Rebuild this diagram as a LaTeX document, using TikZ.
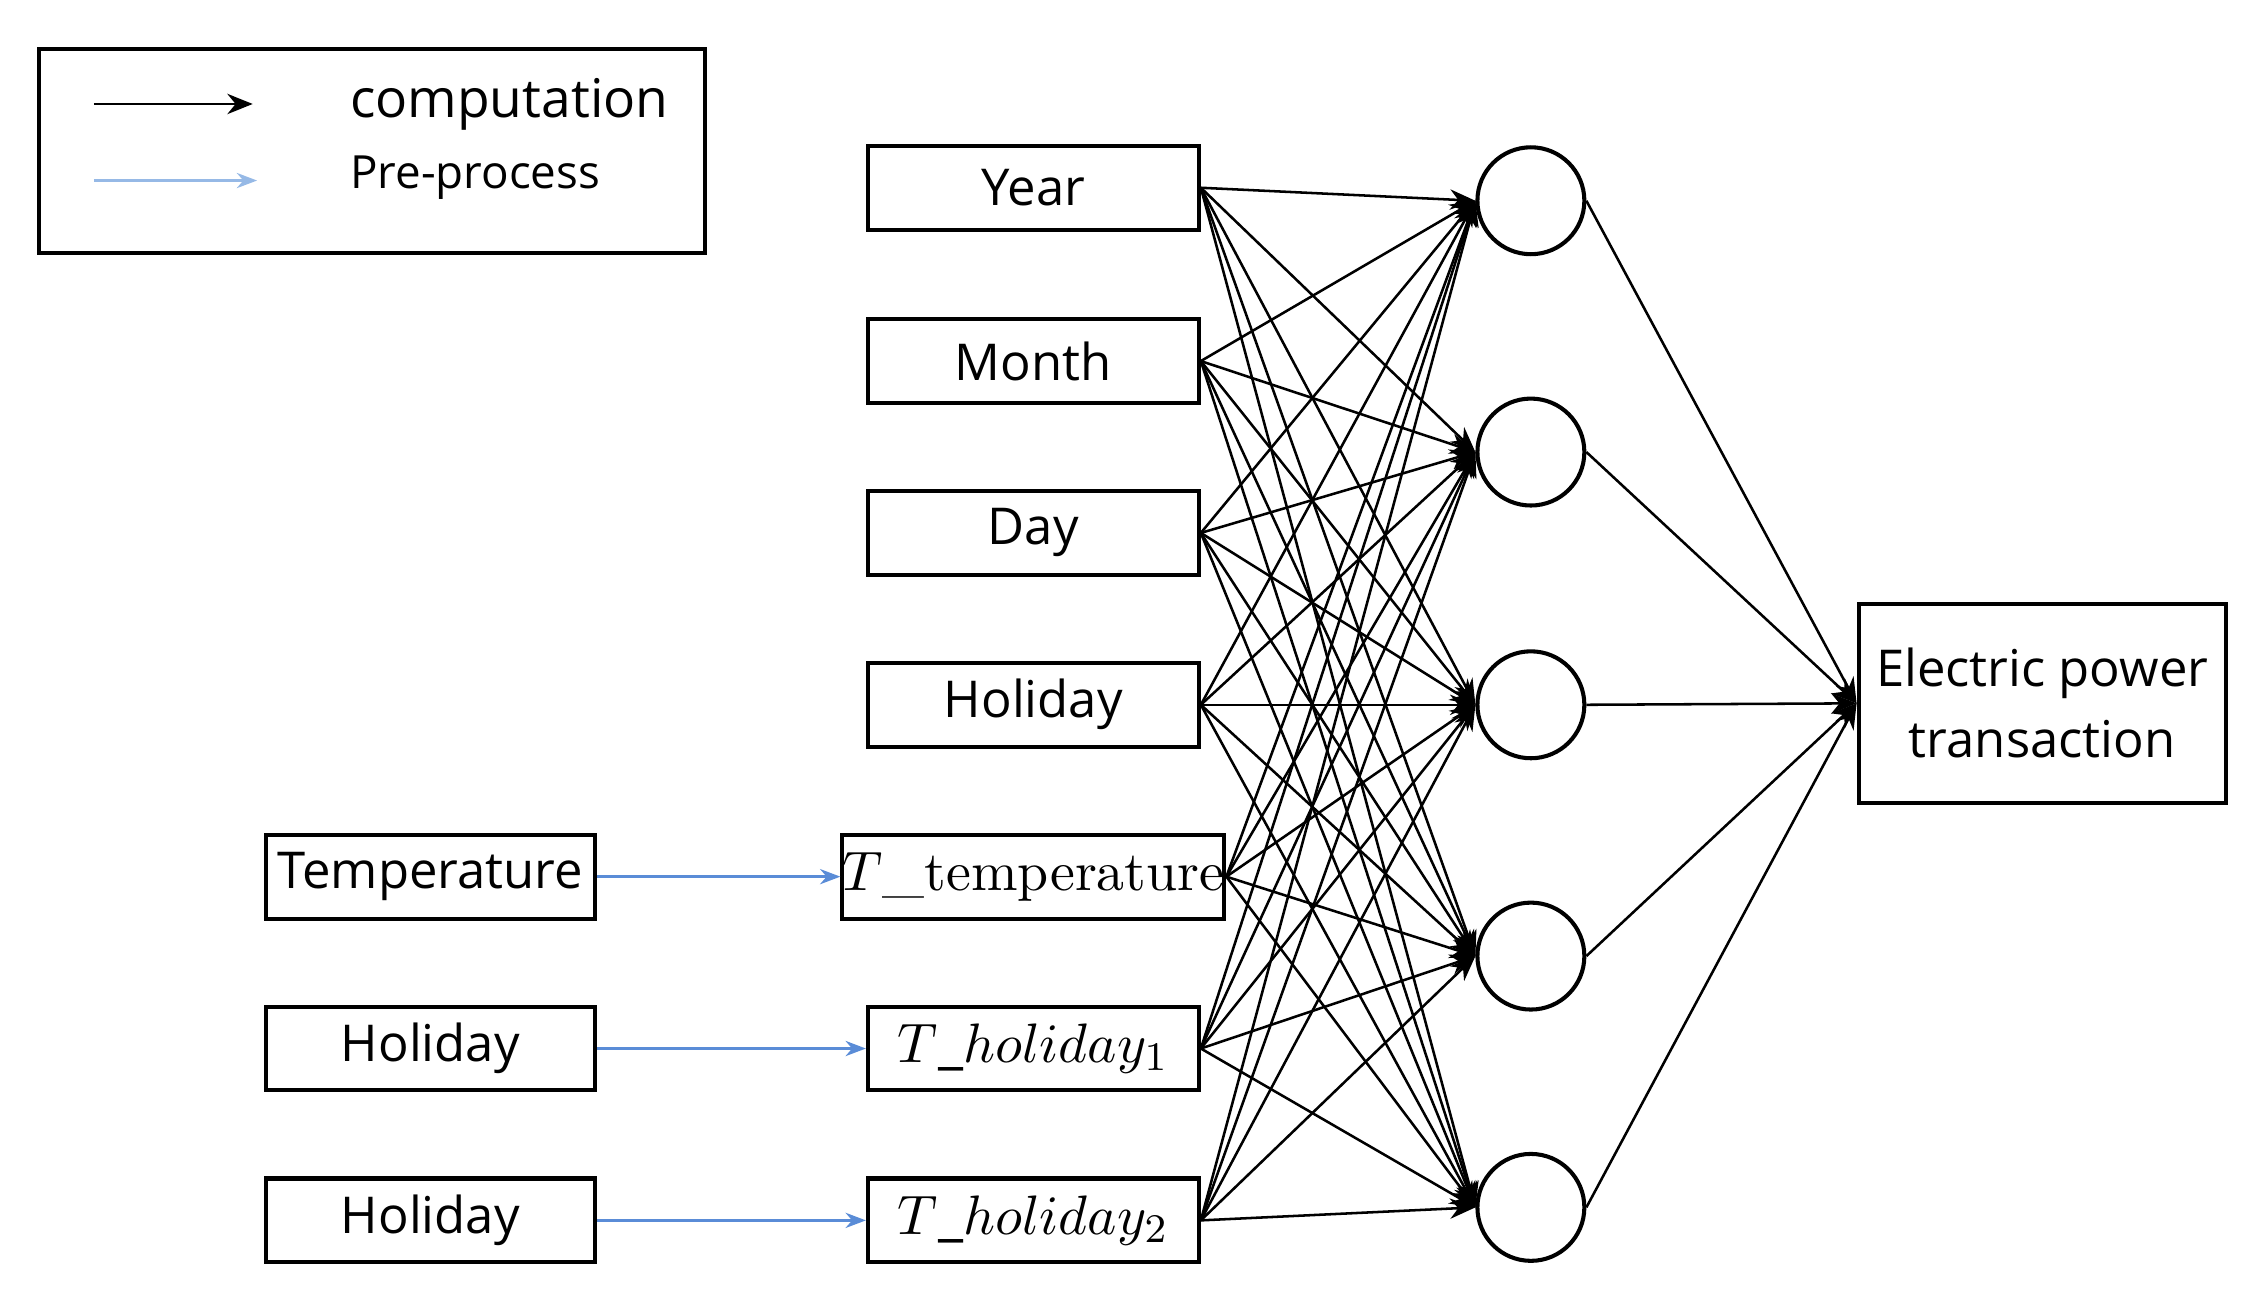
\documentclass[tikz,border=0pt]{standalone}
\usepackage{fontspec}
\setmainfont{Open Sans}
\newfontfamily\lmr{Latin Modern Roman}
\usetikzlibrary{arrows.meta}
\definecolor{lblue}{RGB}{150,185,230}
\definecolor{pblue}{RGB}{90,140,215}
\begin{document}
\begin{tikzpicture}[x=0.01cm,y=-0.01cm,
  box/.style={draw,thick,minimum width=2.29cm,minimum height=0.58cm,inner sep=0pt,font=\fontsize{10}{12}\selectfont},
  lbox/.style={box,minimum width=2.28cm},
  neu/.style={draw,thick,circle,minimum size=0.74cm,inner sep=0pt},
  comp/.style={-{Stealth[length=5pt,width=4pt]},line width=0.5pt},
  pre/.style={-{Stealth[length=4pt,width=3pt]},line width=0.5pt,draw=pblue}]
\useasboundingbox (0,0) rectangle (1560,900);
\draw[thick] (27,34) rectangle (488,175);
\coordinate (la1) at (65,72); \coordinate (lb1) at (175,72);
\coordinate (la2) at (65,125); \coordinate (lb2) at (178,125);
\draw[comp] (la1) -- (lb1);
\draw[pre,draw=lblue] (la2) -- (lb2);
\node[anchor=west,font=\fontsize{10.5}{12}\selectfont] (lt1) at (230,72) {computation};
\node[anchor=west,font=\fontsize{9}{11}\selectfont] (lt2) at (230,123) {Pre-process};
\node[box] (i1) at (715.5,130) {Year};
\node[box] (i2) at (715.5,250) {Month};
\node[box] (i3) at (715.5,369) {Day};
\node[box] (i4) at (715.5,488) {Holiday};
\node[box] (i5) at (715.5,607) {\lmr\fontsize{11}{12}\selectfont$T$\_temperature};
\node[box] (i6) at (715.5,726) {\fontsize{11}{12}\selectfont$T\_holiday_1$};
\node[box] (i7) at (715.5,845) {\fontsize{11}{12}\selectfont$T\_holiday_2$};
\node[lbox] (p1) at (298,607) {Temperature};
\node[lbox] (p2) at (298,726) {Holiday};
\node[lbox] (p3) at (298,845) {Holiday};
\foreach \k/\y in {1/139,2/313,3/488,4/662,5/836} \node[neu] (h\k) at (1060,\y) {};
\node[box,minimum width=2.54cm,minimum height=1.38cm,align=center,font=\fontsize{10}{14}\selectfont] (o) at (1414,487) {Electric power\\transaction};
\foreach \i in {1,...,7} \foreach \k in {1,...,5} \draw[comp] (i\i.east) -- (h\k.west);
\foreach \k in {1,...,5} \draw[comp] (h\k.east) -- (o.west);
\foreach \a/\b in {p1/i5,p2/i6,p3/i7} \draw[pre] (\a.east) -- (\b.west);
\end{tikzpicture}
\end{document}
